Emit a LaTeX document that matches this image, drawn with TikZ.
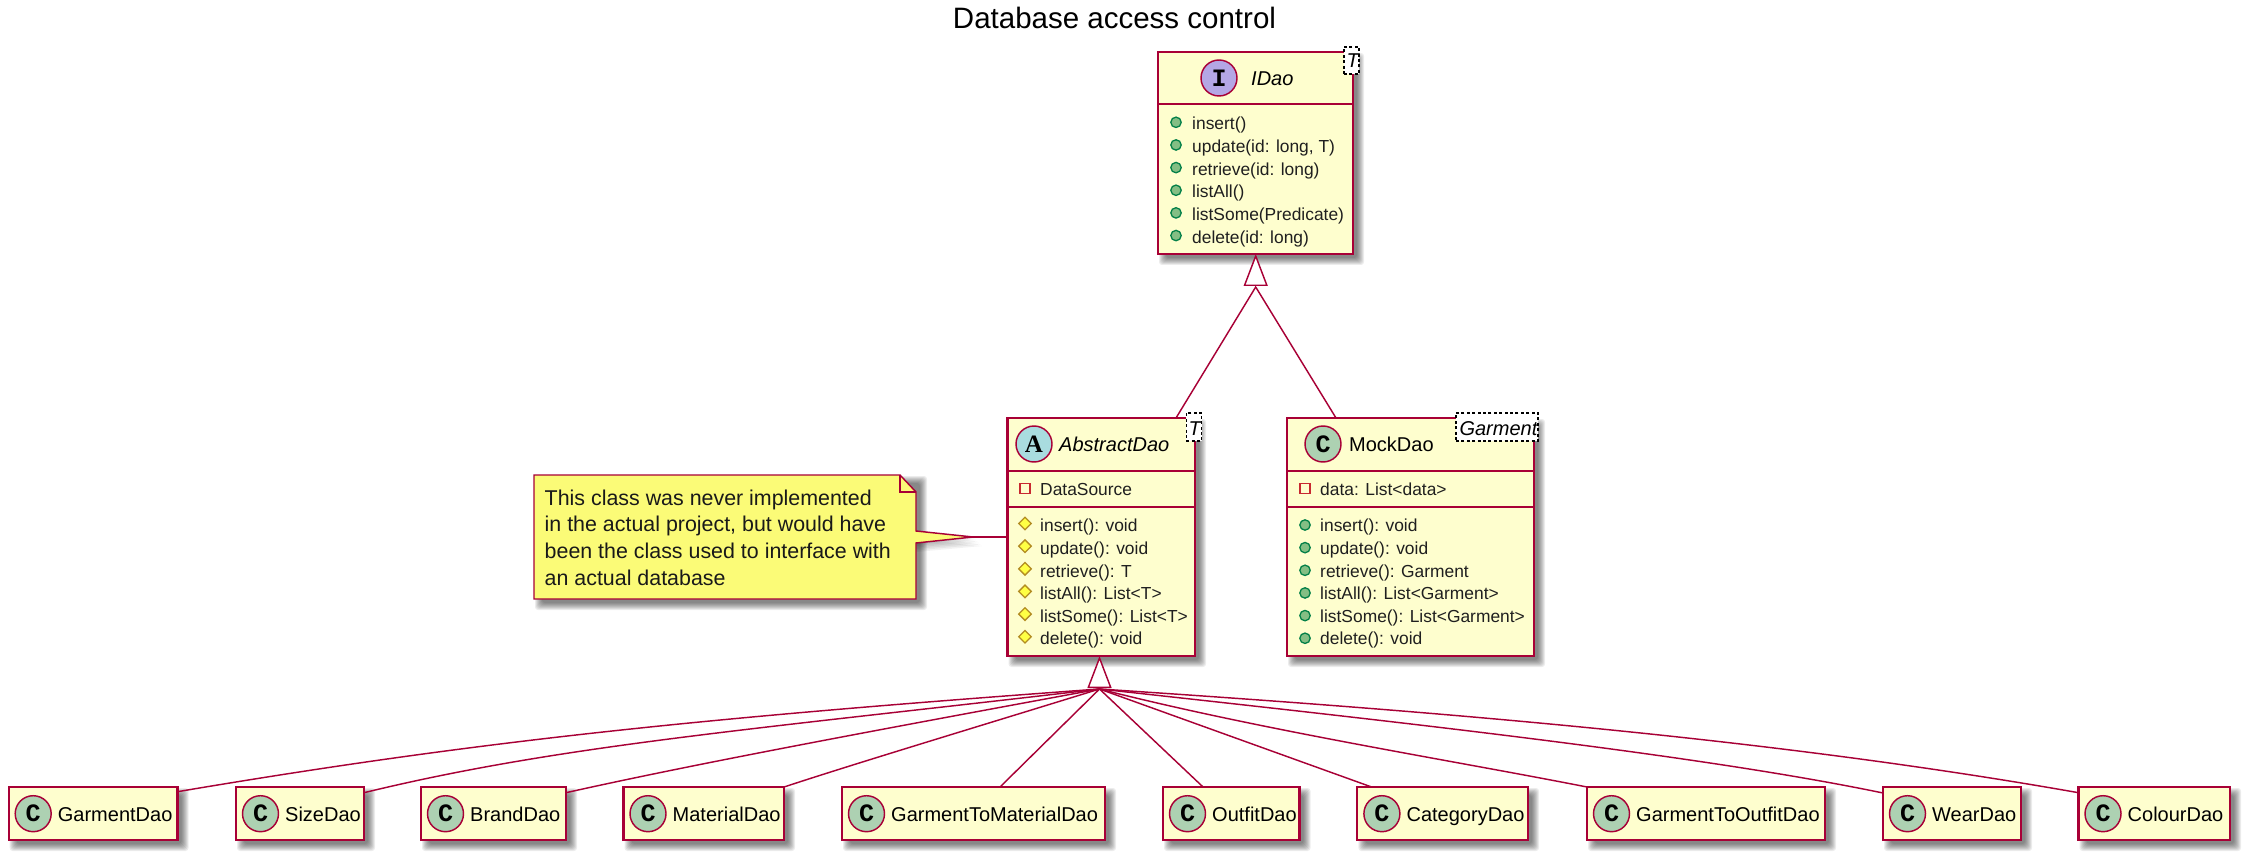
\documentclass[tikz,border=0pt]{standalone}
\usepackage{fontspec}
\setmainfont{Liberation Sans}
\newfontfamily\spotfam{Liberation Mono}
\newfontfamily\spotserif{Liberation Serif}
\usetikzlibrary{arrows.meta}
\newcommand{\fsz}[1]{\fontsize{#1}{#1}\selectfont}
\definecolor{umlred}{HTML}{A80036}
\definecolor{umlbg}{HTML}{FEFECE}
\definecolor{notebg}{HTML}{FBFB77}
\definecolor{spotI}{HTML}{B4A7E5}
\definecolor{spotA}{HTML}{A9DCDF}
\definecolor{spotC}{HTML}{ADD1B2}
\definecolor{pubfill}{HTML}{84BE84}
\definecolor{publine}{HTML}{038048}
\definecolor{protfill}{HTML}{FFFF44}
\definecolor{protline}{HTML}{B38D22}
\definecolor{privline}{HTML}{C82930}
\tikzset{
  x=1pt,y=-1pt,
  classbox/.style={draw=umlred,fill=umlbg,line width=2.1pt,inner sep=0pt,outer sep=0pt,rectangle},
  rule/.style={draw=umlred,line width=2.1pt},
  edge/.style={draw=umlred,line width=1.45pt},
  head/.style={edge,-{Triangle[open,fill=white,length=32pt,width=24pt]}},
  spot/.style={draw=umlred,line width=1.45pt,circle,minimum size=36pt,inner sep=0pt,font=\spotfam\bfseries\fsz{25}},
  cname/.style={font=\fsz{20},anchor=base west,inner sep=0pt},
  cnamei/.style={font=\itshape\fsz{20},anchor=base west,inner sep=0pt},
  gen/.style={draw=black,dash pattern=on 3pt off 2.4pt,fill=white,line width=1.45pt,inner sep=0pt,outer sep=0pt,rectangle},
  gentext/.style={font=\itshape\fsz{20},anchor=base west,inner sep=0pt},
  mem/.style={font=\fsz{17.4},anchor=base west,inner sep=0pt,text=black!88},
  notetext/.style={font=\fontsize{21.4}{26.7}\selectfont,anchor=north west,inner sep=0pt,align=left,text=black!90},
  shad/.style={fill=black,opacity=0.075},
}
\newcommand{\boxshadow}[4]{%
  \foreach \d in {5,4,3,2,1,0,-1,-2}{
    \fill[shad,rounded corners=3pt] ({#1+6-\d},{#2+6-\d}) rectangle ({#3+6+\d},{#4+6+\d});
  }}
\newcommand{\umlbox}[5]{%
  \boxshadow{#2}{#3}{#4}{#5}
  \node[classbox,minimum width={(#4-#2)*1pt},minimum height={(#5-#3)*1pt}] (#1) at ({(#2+#4)/2},{(#3+#5)/2}) {};
}
\newcommand{\pubicon}[2]{\draw[publine,fill=pubfill,line width=1.3pt] (#1,#2) circle[radius=5.2pt];}
\newcommand{\proticon}[2]{\draw[protline,fill=protfill,line width=1.3pt] ({#1-6.3},#2) -- (#1,{#2-6.3}) -- ({#1+6.3},#2) -- (#1,{#2+6.3}) -- cycle;}
\newcommand{\privicon}[2]{\draw[privline,line width=1.3pt] ({#1-5},{#2-5}) rectangle ({#1+5},{#2+5});}
% name, icon macro, icon x, text x, first baseline, first icon y, list
\newcommand{\members}[7]{%
  \foreach \t [count=\i] in {#7}{
    \pgfmathsetmacro{\iy}{#6+(\i-1)*22.65}
    \pgfmathsetmacro{\by}{#5+(\i-1)*22.65}
    #2{#3}{\iy}
    \node[mem] (#1-\i) at (#4,\by) {\t};
  }}
\newcommand{\lowclass}[4]{% name,left,right,text
  \umlbox{#1}{#2}{787}{#3}{840}
  \node[spot,fill=spotC] (#1-spot) at ({#2+24.5},813.7) {C};
  \node[cname] (#1-name) at ({#2+49},821.7) {#4};
}
\begin{document}
\begin{tikzpicture}
\useasboundingbox (0,0) rectangle (2248,858);
\fill[white] (0,0) rectangle (2248,858);
\node[font=\fsz{29.5},inner sep=0pt,anchor=base,text=black] (title) at (1114.5,29) {Database access control};

% IDao
\umlbox{idao}{1158}{52}{1353}{254}
\draw[rule] (idao.west |- 0,104) -- (idao.east |- 0,104);
\node[spot,fill=spotI] (idao-spot) at (1219,78) {I};
\node[cnamei] (idao-name) at (1251,86) {IDao};
\node[gen,minimum width=15pt,minimum height=27pt] (idao-gen) at (1351.5,60.5) {};
\node[gentext] (idao-t) at (1346.5,68) {T};
\members{idao-m}{\pubicon}{1176}{1192}{130}{122.3}{insert(),{update(id: long, T)},retrieve(id: long),listAll(),listSome(Predicate),delete(id: long)}

% AbstractDao
\umlbox{abstract}{1007.5}{418}{1195}{656}
\draw[rule] (abstract.west |- 0,471) -- (abstract.east |- 0,471);
\draw[rule] (abstract.west |- 0,507) -- (abstract.east |- 0,507);
\node[spot,fill=spotA,font=\spotserif\bfseries\fsz{25}] (abstract-spot) at (1034,444) {A};
\node[cnamei] (abstract-name) at (1059,451.7) {AbstractDao};
\node[gen,minimum width=15.5pt,minimum height=28pt] (abstract-gen) at (1194,427) {};
\node[gentext] (abstract-t) at (1188.5,435) {T};
\privicon{1025}{488.3}
\node[mem] (abstract-a1) at (1040,495.7) {DataSource};
\members{abstract-m}{\proticon}{1025}{1040}{531.7}{523.5}{insert(): void,update(): void,retrieve(): T,listAll(): List<T>,listSome(): List<T>,delete(): void}

% MockDao
\umlbox{mock}{1287}{418}{1534}{656}
\draw[rule] (mock.west |- 0,471) -- (mock.east |- 0,471);
\draw[rule] (mock.west |- 0,507) -- (mock.east |- 0,507);
\node[spot,fill=spotC] (mock-spot) at (1323,444) {C};
\node[cname] (mock-name) at (1349,451.7) {MockDao};
\node[gen,minimum width=82pt,minimum height=28pt] (mock-gen) at (1497,427) {};
\node[gentext] (mock-t) at (1459.3,435) {Garment};
\privicon{1305}{488.3}
\node[mem] (mock-a1) at (1320,495.7) {data: List<data>};
\members{mock-m}{\pubicon}{1305}{1320}{531.7}{525}{insert(): void,update(): void,retrieve(): Garment,listAll(): List<Garment>,listSome(): List<Garment>,delete(): void}

% Note
\foreach \d in {5,4,3,2,1,0,-1,-2}{
  \fill[shad,rounded corners=3pt] ({534+6-\d},{475+6-\d}) rectangle ({916+6+\d},{599+6+\d});
}
\foreach \d in {0,1.5,3,4.5,6,7.5,9}{
  \fill[fill=black,opacity=0.05] (916,{531+\d}) -- ({973+\d},{537+\d}) -- (916,{543+\d}) -- cycle;
}
\coordinate (notetip) at (973,537);
\draw[edge,fill=notebg] (534,475) -- (900,475) -- (916,492) -- (916,531) -- (notetip) -- (916,543) -- (916,599) -- (534,599) -- cycle;
\draw[edge] (900,475) -- (900,492) -- (916,492);
\node[notetext] (note) at (544.5,489.4) {This class was never implemented\\in the actual project, but would have\\been the class used to interface with\\an actual database};
\draw[edge] (notetip) -- (abstract.west |- notetip);

% Lower classes
\lowclass{gd}{8.7}{177.5}{GarmentDao}
\lowclass{sd}{236}{364}{SizeDao}
\lowclass{bd}{421}{566}{BrandDao}
\lowclass{md}{623.5}{784}{MaterialDao}
\lowclass{gtm}{842}{1105}{GarmentToMaterialDao}
\lowclass{od}{1163}{1299.5}{OutfitDao}
\lowclass{cd}{1357.4}{1528}{CategoryDao}
\lowclass{gto}{1587}{1825}{GarmentToOutfitDao}
\lowclass{wd}{1883}{2021}{WearDao}
\lowclass{cld}{2078.5}{2230}{ColourDao}

% Inheritance to IDao
\coordinate (hubI) at (1255.7,287);
\draw[edge] (hubI) -- ([xshift=-19pt]abstract.north east);
\draw[edge] (hubI) -- ([xshift=-74.5pt]mock.north);
\draw[head] (hubI) -- (hubI |- idao.south);

% Inheritance to AbstractDao
\coordinate (hubA) at (1099.5,689);
\draw[edge] (hubA) .. controls (700,718) and (477,741) .. ([yshift=-4.7pt]gd.north east);
\draw[edge] (hubA) .. controls (750,730) and (560,745) .. ([yshift=-5.7pt]sd.north east);
\draw[edge] (hubA) .. controls (850,735) and (690,765) .. ([yshift=-5.7pt]bd.north east);
\draw[edge] (hubA) .. controls (980,726) and (860,762) .. (md.north east);
\draw[edge] (hubA) -- ([xshift=26.5pt]gtm.north);
\draw[edge] (hubA) -- ([xshift=-28.2pt]od.north);
\draw[edge] (hubA) -- ([xshift=14.2pt]cd.north west);
\draw[edge] (hubA) .. controls (1260,730) and (1450,760) .. (gto.north west);
\draw[edge] (hubA) .. controls (1400,722) and (1700,755) .. ([yshift=-6pt]wd.north west);
\draw[edge] (hubA) .. controls (1450,712) and (1780,740) .. ([yshift=-5.7pt]cld.north west);
\draw[head] (hubA) -- (hubA |- abstract.south);
\end{tikzpicture}
\end{document}
